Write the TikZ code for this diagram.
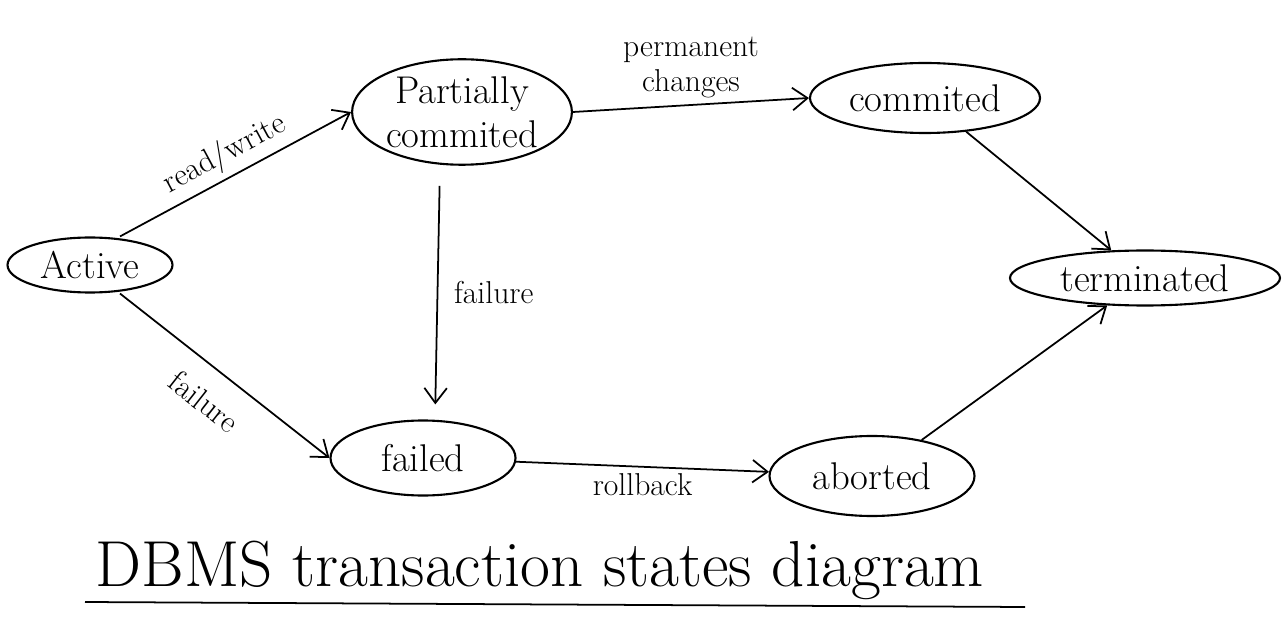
\documentclass[tikz,border=0pt]{standalone}
\usetikzlibrary{shapes.geometric,positioning,arrows.meta}

\begin{document}
\begin{tikzpicture}[
  >={Straight Barb[length=3mm,width=4.5mm]}, line width=1pt,
  every state/.style={ellipse, draw, line width=1.2pt, inner sep=1pt,
    font=\fontsize{22}{25}\selectfont},
  lbl/.style={font=\fontsize{18}{20}\selectfont}
]
  \useasboundingbox (0,0) rectangle (25.7,-12.74);
  \node[every state, minimum width=3.3cm, minimum height=1.1cm] (act) at (1.8,-5.3) {Active};
  \node[every state, minimum width=4.3cm, minimum height=2cm, align=center] (pc) at (9.24,-2.24) {Partially\\commited};
  \node[every state, minimum width=4.6cm, minimum height=1.4cm] (com) at (18.5,-1.96) {commited};
  \node[every state, minimum width=5.4cm, minimum height=1.1cm] (term) at (22.9,-5.56) {terminated};
  \node[every state, minimum width=3.7cm, minimum height=1.5cm] (fail) at (8.46,-9.16) {failed};
  \node[every state, minimum width=4.1cm, minimum height=1.6cm] (abrt) at (17.44,-9.52) {aborted};

  \path[->]
    ([xshift=6mm]act.north) edge node[above, sloped, lbl] {read/write} (pc.west)
    (pc.east) edge node[above, lbl, align=center] {permanent\\changes} (com.west)
    (com) edge (term)
    ([xshift=-4.4mm]pc.south) edge[shorten <=4mm, shorten >=3mm] node[right=2mm, lbl] {failure} ([xshift=2.4mm]fail.north)
    ([xshift=6mm]act.south) edge node[below=3mm, sloped, lbl] {failure} (fail.west)
    (fail) edge node[below, lbl] {rollback} (abrt)
    (abrt) edge (term);

  \node[font=\fontsize{37}{42}\selectfont] (cap) at (10.8,-11.4) {DBMS transaction states diagram};
  \coordinate (ul1) at (1.7,-12.04);
  \coordinate (ul2) at (20.5,-12.14);
  \draw (ul1) -- (ul2);
\end{tikzpicture}
\end{document}
